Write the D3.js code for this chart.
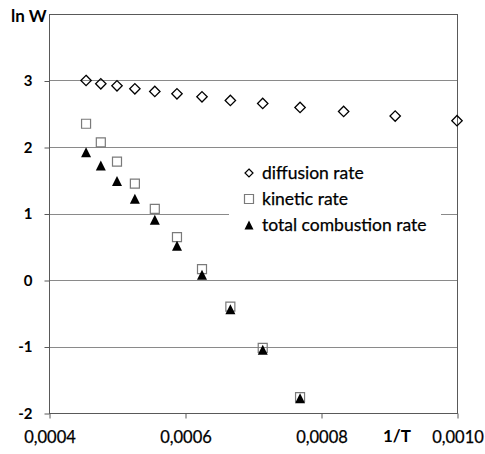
<!DOCTYPE html>
<html>
<head>
<meta charset="utf-8">
<script src="https://cdn.jsdelivr.net/npm/d3@7"></script>
<style>
  body { margin: 0; background: #fff; }
  text { font-family: Lato, 'Open Sans', sans-serif; }
</style>
</head>
<body>
<div id="chart"></div>
<script>
// 1/T values (T = 2200 ... 1000 K)
const invT = [0.0004545, 0.0004762, 0.0005, 0.0005263, 0.0005556, 0.0005882,
  0.000625, 0.0006667, 0.0007143, 0.0007692, 0.0008333, 0.0009091, 0.001];
const diffusion = [3.0, 2.95, 2.92, 2.875, 2.835, 2.80, 2.755, 2.70, 2.655, 2.595, 2.535, 2.465, 2.395];
const kinetic = [2.35, 2.07, 1.78, 1.45, 1.07, 0.645, 0.165, -0.40, -1.02, -1.76];
const total = [1.92, 1.72, 1.49, 1.22, 0.905, 0.515, 0.08, -0.44, -1.05, -1.78];
const xTicks = [0.0004, 0.0006, 0.0008, 0.0010];
const yTicks = [-2, -1, 0, 1, 2, 3];
const legendNames = ['diffusion rate', 'kinetic rate', 'total combustion rate'];

const width = 485;
const height = 454;
const margin = { top: 14, right: 28, bottom: 41, left: 49 };

const x = d3.scaleLinear()
  .domain([0.0004, 0.0010])
  .range([margin.left, width - margin.right]);

const y = d3.scaleLinear()
  .domain([-2, 4])
  .range([height - margin.bottom, margin.top]);

const svg = d3.select('#chart')
  .append('svg')
  .attr('width', width)
  .attr('height', height);

// gridlines
svg.append('g')
  .selectAll('line')
  .data(yTicks.filter(d => d > -2))
  .enter()
  .append('line')
  .attr('x1', x.range()[0])
  .attr('x2', x.range()[1])
  .attr('y1', d => Math.round(y(d)) + 0.5)
  .attr('y2', d => Math.round(y(d)) + 0.5)
  .attr('stroke', '#8a8a8a')
  .attr('stroke-width', 1);

// frame
svg.append('rect')
  .attr('x', x.range()[0] + 0.5)
  .attr('y', Math.round(y(4)) + 0.5)
  .attr('width', x.range()[1] - x.range()[0])
  .attr('height', Math.round(y(-2)) - Math.round(y(4)))
  .attr('fill', 'none')
  .attr('stroke', '#595959')
  .attr('stroke-width', 1);

const fmt = d => d3.format('.4f')(d).replace('.', ',');

svg.append('g')
  .attr('transform', `translate(0.5, ${Math.round(y(-2)) + 0.5})`)
  .call(d3.axisBottom(x).tickValues(xTicks).tickSize(5).tickPadding(13).tickFormat(fmt))
  .call(g => g.select('.domain').remove())
  .call(g => g.selectAll('line').attr('stroke', '#595959'))
  .call(g => g.selectAll('text')
    .attr('font-family', 'Lato, sans-serif')
    .attr('font-size', 16.5)
    .attr('fill', '#000')
    .attr('stroke', '#000')
    .attr('stroke-width', 0.25));

svg.append('g')
  .attr('transform', `translate(${margin.left + 0.5}, 0.5)`)
  .call(d3.axisLeft(y).tickValues(yTicks).tickSize(5).tickPadding(12).tickFormat(d3.format('d')))
  .call(g => g.select('.domain').remove())
  .call(g => g.selectAll('line').attr('stroke', '#595959'))
  .call(g => g.selectAll('text')
    .attr('font-family', 'Lato, sans-serif')
    .attr('font-size', 15)
    .attr('font-weight', 'bold')
    .attr('fill', '#000')
    .text(d => (d < 0 ? '-' + Math.abs(d) : d)));

svg.append('text')
  .attr('x', 11)
  .attr('y', 22)
  .attr('font-size', 17)
  .attr('font-weight', 'bold')
  .text('ln W');

svg.append('text')
  .attr('x', 383)
  .attr('y', 442)
  .attr('font-size', 17)
  .attr('font-weight', 'bold')
  .text('1/T');

// marker shapes
const diamond = (s) => `M0,${-s}L${s},0L0,${s}L${-s},0Z`;
const square = (s) => `M${-s},${-s}H${s}V${s}H${-s}Z`;
const triangle = (s) => `M0,${-s}L${s},${s}L${-s},${s}Z`;

svg.append('g')
  .selectAll('path')
  .data(diffusion)
  .enter()
  .append('path')
  .attr('transform', (d, i) => `translate(${x(invT[i])}, ${y(d)})`)
  .attr('d', diamond(5.2))
  .attr('fill', 'none')
  .attr('stroke', '#000')
  .attr('stroke-width', 1.3);

svg.append('g')
  .selectAll('path')
  .data(kinetic)
  .enter()
  .append('path')
  .attr('transform', (d, i) => `translate(${x(invT[i])}, ${y(d)})`)
  .attr('d', square(4.5))
  .attr('fill', 'none')
  .attr('stroke', '#7a7a7a')
  .attr('stroke-width', 1.2);

svg.append('g')
  .selectAll('path')
  .data(total)
  .enter()
  .append('path')
  .attr('transform', (d, i) => `translate(${x(invT[i])}, ${y(d)})`)
  .attr('d', triangle(5))
  .attr('fill', '#000');

// legend
const legend = svg.append('g');
legend.append('rect')
  .attr('x', 229)
  .attr('y', 158)
  .attr('width', 212)
  .attr('height', 82)
  .attr('fill', '#fff');

const legendShapes = [
  { d: diamond(4), fill: 'none', stroke: '#000' },
  { d: square(4.5), fill: 'none', stroke: '#7a7a7a' },
  { d: triangle(4.5), fill: '#000', stroke: 'none' },
];

const items = legend.selectAll('.item')
  .data(legendNames)
  .enter()
  .append('g')
  .attr('transform', (d, i) => `translate(249, ${173 + i * 26})`);

items.append('path')
  .attr('d', (d, i) => legendShapes[i].d)
  .attr('fill', (d, i) => legendShapes[i].fill)
  .attr('stroke', (d, i) => legendShapes[i].stroke)
  .attr('stroke-width', 1.2);

items.append('text')
  .attr('x', 13)
  .attr('y', 5.5)
  .attr('font-size', 17.5)
  .attr('stroke', '#000')
  .attr('stroke-width', 0.25)
  .text(d => d);
</script>
</body>
</html>
